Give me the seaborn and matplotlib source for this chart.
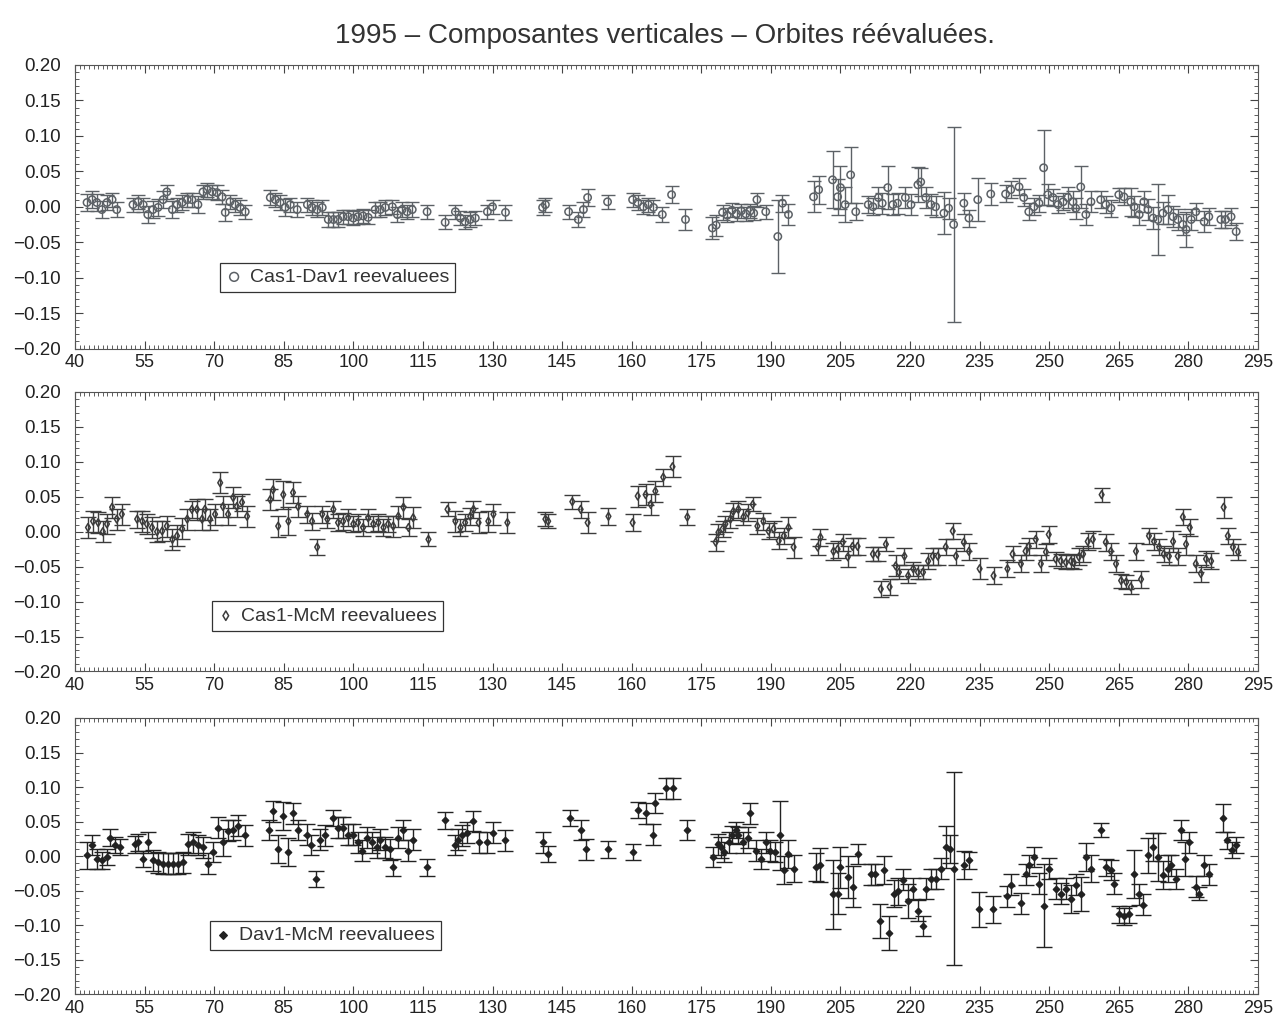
import numpy as np
import pandas as pd
import matplotlib
matplotlib.use("Agg")
import matplotlib.pyplot as plt
import seaborn as sns
from matplotlib.ticker import MultipleLocator

# ---------------- data ----------------
title = "1995 – Composantes verticales – Orbites réévaluées."
x_ticks = list(range(40, 296, 15))
y_ticks = [-0.20, -0.15, -0.10, -0.05, 0.00, 0.05, 0.10, 0.15, 0.20]

labels = ["Cas1-Dav1 reevaluees", "Cas1-McM reevaluees", "Dav1-McM reevaluees"]

x1 = [42.6, 43.7, 44.7, 45.8, 46.9, 48.0, 49.0, 52.5, 53.6, 54.7, 55.7, 56.8, 57.9, 59.0, 59.8, 61.0, 62.0, 63.1, 64.2, 65.2,
      66.5, 67.6, 68.5, 69.6, 70.6, 71.7, 72.4, 73.4, 74.5, 75.6, 76.7, 82.1, 83.2, 84.2, 85.3, 86.4, 87.9, 90.1, 91.1, 92.2,
      93.3, 94.6, 95.7, 96.7, 97.8, 98.9, 100.0, 101.0, 102.1, 103.2, 104.7, 105.8, 106.9, 108.4, 109.5, 110.5, 111.6, 112.7, 115.9, 119.8,
      122.0, 123.1, 124.1, 125.2, 126.3, 128.9, 130.0, 132.8, 140.8, 141.4, 146.4, 148.5, 149.6, 150.5, 154.8, 160.2, 161.3, 162.5, 163.6, 164.7,
      166.6, 168.6, 171.6, 177.4, 178.2, 179.6, 180.6, 181.6, 182.6, 183.6, 184.6, 185.5, 186.3, 187.0, 188.9, 191.5, 192.5, 193.8, 199.2, 200.3,
      203.3, 204.4, 205.0, 206.0, 207.2, 208.3, 211.0, 212.0, 213.2, 214.0, 215.2, 216.3, 217.3, 219.0, 220.2, 221.7, 222.3, 223.4, 224.5, 225.5,
      227.3, 228.3, 229.4, 231.6, 232.7, 234.6, 237.4, 240.6, 241.7, 243.5, 244.5, 245.6, 246.7, 247.8, 248.8, 249.7, 250.8, 251.9, 253.0, 254.0,
      255.1, 255.7, 256.8, 257.9, 259.0, 261.1, 262.2, 263.3, 265.0, 266.1, 267.6, 268.3, 269.4, 270.4, 271.3, 272.4, 273.4, 274.5, 275.6, 276.7,
      277.7, 278.8, 279.5, 280.6, 281.6, 283.4, 284.4, 287.0, 288.0, 289.2, 290.3]
y1 = [0.006, 0.010, 0.006, -0.004, 0.006, 0.010, -0.004, 0.003, 0.007, 0.003, -0.011, -0.004, -0.001, 0.010, 0.021, -0.004, 0.003, 0.006, 0.010, 0.010,
      0.003, 0.021, 0.024, 0.021, 0.020, 0.014, -0.008, 0.007, 0.003, -0.001, -0.007, 0.013, 0.010, 0.006, -0.001, 0.003, -0.004, 0.003, -0.001, -0.004,
      -0.001, -0.018, -0.018, -0.018, -0.014, -0.014, -0.016, -0.014, -0.013, -0.015, -0.004, -0.004, -0.001, 0.000, -0.011, -0.004, -0.007, -0.004, -0.007, -0.022,
      -0.007, -0.016, -0.021, -0.018, -0.016, -0.007, 0.000, -0.008, -0.001, 0.003, -0.007, -0.018, -0.004, 0.013, 0.007, 0.010, 0.006, 0.000, 0.003, -0.001,
      -0.011, 0.017, -0.018, -0.030, -0.026, -0.008, -0.012, -0.005, -0.010, -0.006, -0.010, -0.006, -0.009, 0.010, -0.007, -0.042, 0.005, -0.011, 0.014, 0.024,
      0.038, 0.014, 0.027, 0.003, 0.045, -0.007, 0.003, 0.000, 0.013, 0.005, 0.027, 0.003, 0.005, 0.013, 0.003, 0.031, 0.035, 0.013, 0.003, 0.000,
      -0.009, -0.002, -0.025, 0.005, -0.016, 0.010, 0.018, 0.018, 0.024, 0.028, 0.013, -0.007, 0.000, 0.005, 0.055, 0.017, 0.013, 0.003, 0.007, 0.013,
      0.007, -0.002, 0.028, -0.011, 0.007, 0.010, 0.003, -0.002, 0.017, 0.014, 0.007, 0.000, -0.011, 0.007, -0.004, -0.016, -0.018, -0.009, -0.004, -0.014,
      -0.018, -0.025, -0.032, -0.018, -0.007, -0.021, -0.014, -0.018, -0.018, -0.014, -0.035]
e1 = [0.012, 0.012, 0.012, 0.012, 0.010, 0.010, 0.010, 0.010, 0.010, 0.010, 0.012, 0.012, 0.012, 0.012, 0.010, 0.012, 0.010, 0.010, 0.010, 0.010,
      0.012, 0.010, 0.010, 0.010, 0.010, 0.010, 0.012, 0.010, 0.010, 0.010, 0.010, 0.010, 0.010, 0.010, 0.012, 0.010, 0.010, 0.010, 0.010, 0.010,
      0.010, 0.010, 0.010, 0.010, 0.010, 0.010, 0.010, 0.010, 0.010, 0.010, 0.010, 0.010, 0.010, 0.010, 0.010, 0.010, 0.010, 0.010, 0.010, 0.010,
      0.010, 0.010, 0.010, 0.010, 0.010, 0.010, 0.010, 0.010, 0.010, 0.010, 0.010, 0.010, 0.010, 0.012, 0.010, 0.010, 0.010, 0.010, 0.010, 0.010,
      0.010, 0.012, 0.015, 0.015, 0.015, 0.010, 0.010, 0.010, 0.010, 0.010, 0.010, 0.010, 0.010, 0.010, 0.010, 0.052, 0.012, 0.015, 0.022, 0.020,
      0.040, 0.025, 0.030, 0.025, 0.040, 0.012, 0.012, 0.012, 0.015, 0.015, 0.030, 0.015, 0.015, 0.015, 0.015, 0.025, 0.020, 0.015, 0.015, 0.015,
      0.030, 0.015, 0.137, 0.015, 0.012, 0.030, 0.015, 0.012, 0.012, 0.012, 0.012, 0.012, 0.012, 0.012, 0.053, 0.015, 0.012, 0.012, 0.012, 0.015,
      0.015, 0.015, 0.030, 0.015, 0.015, 0.012, 0.012, 0.012, 0.010, 0.012, 0.020, 0.015, 0.015, 0.015, 0.015, 0.015, 0.050, 0.015, 0.020, 0.015,
      0.015, 0.015, 0.025, 0.015, 0.012, 0.015, 0.012, 0.012, 0.012, 0.012, 0.012]

x2 = [42.8, 43.9, 45.0, 46.0, 46.9, 48.0, 49.0, 50.1, 53.4, 54.5, 55.5, 56.6, 57.7, 58.8, 59.8, 61.0, 62.0, 63.1, 64.2, 65.2,
      66.3, 67.4, 68.0, 69.1, 70.2, 71.3, 71.9, 73.0, 74.1, 74.9, 76.0, 77.1, 82.1, 82.7, 83.8, 84.9, 86.0, 87.0, 88.1, 90.1,
      91.1, 92.2, 93.3, 94.4, 95.7, 96.7, 97.8, 98.9, 100.0, 101.0, 102.1, 103.2, 104.3, 105.4, 106.5, 107.5, 108.6, 109.7, 110.8, 111.9,
      112.9, 116.2, 120.3, 122.0, 123.1, 124.1, 125.2, 125.9, 127.0, 129.1, 130.2, 133.2, 141.4, 142.0, 147.2, 149.0, 150.5, 155.0, 160.2, 161.3,
      163.0, 164.1, 165.1, 166.8, 168.8, 172.0, 178.1, 178.7, 179.6, 180.2, 181.3, 181.9, 183.0, 184.1, 185.0, 186.1, 187.1, 188.4, 189.5, 190.6,
      191.7, 192.8, 193.8, 194.9, 200.1, 200.7, 203.5, 204.4, 205.5, 206.6, 207.6, 208.7, 212.0, 213.0, 213.7, 214.8, 215.6, 216.9, 217.6, 218.8,
      219.6, 220.7, 221.7, 222.8, 223.9, 224.9, 226.0, 227.7, 229.2, 229.9, 231.6, 232.7, 235.0, 238.0, 241.0, 242.1, 243.9, 244.9, 245.6, 247.1,
      248.2, 249.3, 249.9, 251.4, 252.5, 253.6, 254.7, 255.3, 256.4, 257.3, 258.3, 259.4, 261.3, 262.2, 263.3, 264.4, 265.5, 266.6, 267.6, 268.7,
      269.8, 271.5, 272.6, 273.7, 274.7, 275.8, 276.7, 277.7, 278.8, 279.5, 280.3, 281.6, 282.7, 283.8, 284.9, 287.6, 288.5, 289.6, 290.7]
y2 = [0.006, 0.015, 0.013, 0.000, 0.011, 0.035, 0.018, 0.025, 0.018, 0.015, 0.011, 0.006, 0.000, 0.001, 0.008, -0.011, -0.006, 0.004, 0.018, 0.032,
      0.032, 0.018, 0.032, 0.018, 0.025, 0.070, 0.036, 0.025, 0.049, 0.036, 0.042, 0.022, 0.046, 0.060, 0.008, 0.053, 0.015, 0.056, 0.036, 0.025,
      0.015, -0.022, 0.025, 0.018, 0.032, 0.013, 0.015, 0.020, 0.011, 0.013, 0.006, 0.020, 0.011, 0.013, 0.006, 0.011, 0.008, 0.022, 0.035, 0.006,
      0.020, -0.011, 0.032, 0.015, 0.006, 0.013, 0.022, 0.032, 0.013, 0.015, 0.025, 0.013, 0.018, 0.015, 0.043, 0.032, 0.013, 0.022, 0.013, 0.051,
      0.053, 0.039, 0.058, 0.078, 0.093, 0.021, -0.015, -0.001, 0.004, 0.011, 0.018, 0.029, 0.032, 0.021, 0.027, 0.039, 0.008, 0.015, 0.001, 0.004,
      -0.013, -0.006, 0.006, -0.022, -0.022, -0.008, -0.028, -0.025, -0.015, -0.036, -0.021, -0.021, -0.032, -0.032, -0.082, -0.018, -0.079, -0.049, -0.058, -0.035,
      -0.063, -0.053, -0.058, -0.058, -0.042, -0.035, -0.035, -0.022, 0.001, -0.035, -0.015, -0.028, -0.053, -0.063, -0.053, -0.032, -0.046, -0.028, -0.021, -0.011,
      -0.046, -0.029, -0.004, -0.039, -0.042, -0.044, -0.042, -0.044, -0.036, -0.032, -0.014, -0.011, 0.053, -0.015, -0.028, -0.046, -0.070, -0.072, -0.079, -0.028,
      -0.068, -0.006, -0.014, -0.022, -0.032, -0.035, -0.014, -0.035, 0.021, -0.018, 0.006, -0.046, -0.060, -0.039, -0.042, 0.035, -0.006, -0.022, -0.029]
e2 = [0.015, 0.015, 0.015, 0.015, 0.015, 0.015, 0.015, 0.015, 0.012, 0.015, 0.015, 0.015, 0.015, 0.015, 0.015, 0.015, 0.015, 0.015, 0.015, 0.012,
      0.015, 0.015, 0.015, 0.015, 0.015, 0.015, 0.015, 0.015, 0.015, 0.015, 0.012, 0.015, 0.015, 0.015, 0.015, 0.020, 0.020, 0.015, 0.015, 0.012,
      0.012, 0.012, 0.012, 0.012, 0.012, 0.012, 0.012, 0.012, 0.012, 0.012, 0.012, 0.012, 0.012, 0.012, 0.012, 0.012, 0.015, 0.015, 0.015, 0.012,
      0.015, 0.010, 0.010, 0.015, 0.012, 0.012, 0.012, 0.012, 0.015, 0.015, 0.015, 0.015, 0.010, 0.010, 0.010, 0.012, 0.015, 0.012, 0.012, 0.015,
      0.015, 0.015, 0.015, 0.012, 0.015, 0.012, 0.012, 0.012, 0.012, 0.012, 0.012, 0.012, 0.012, 0.012, 0.012, 0.010, 0.012, 0.012, 0.012, 0.012,
      0.012, 0.012, 0.015, 0.015, 0.012, 0.012, 0.012, 0.012, 0.012, 0.015, 0.012, 0.012, 0.010, 0.010, 0.012, 0.010, 0.012, 0.015, 0.010, 0.012,
      0.010, 0.010, 0.010, 0.010, 0.012, 0.012, 0.012, 0.012, 0.012, 0.012, 0.012, 0.012, 0.015, 0.012, 0.012, 0.012, 0.012, 0.012, 0.012, 0.012,
      0.012, 0.012, 0.012, 0.010, 0.010, 0.010, 0.010, 0.010, 0.012, 0.012, 0.012, 0.012, 0.010, 0.012, 0.012, 0.012, 0.010, 0.010, 0.010, 0.012,
      0.012, 0.012, 0.012, 0.012, 0.012, 0.012, 0.015, 0.012, 0.012, 0.015, 0.012, 0.012, 0.012, 0.012, 0.012, 0.015, 0.012, 0.012, 0.012]

x3 = [42.6, 43.7, 44.7, 45.8, 46.9, 47.6, 48.6, 49.7, 52.9, 53.6, 54.7, 55.7, 56.8, 57.9, 59.0, 60.1, 61.1, 62.2, 63.3, 64.4,
      65.5, 66.5, 67.6, 68.7, 69.8, 70.9, 71.9, 73.0, 74.1, 75.2, 76.7, 81.9, 82.7, 83.8, 84.9, 86.0, 87.0, 88.1, 90.1, 90.9,
      92.0, 92.9, 93.9, 95.7, 96.7, 97.8, 98.9, 100.0, 101.0, 101.9, 103.0, 104.1, 105.2, 105.8, 106.9, 108.0, 108.6, 109.7, 110.8, 111.8,
      112.9, 115.9, 119.8, 122.0, 122.6, 123.5, 124.6, 125.9, 127.0, 128.9, 130.0, 132.8, 140.8, 142.0, 146.8, 149.0, 150.2, 155.0, 160.2, 161.3,
      163.0, 164.5, 165.1, 167.3, 169.0, 172.0, 177.6, 178.5, 179.2, 179.8, 180.9, 181.7, 182.4, 183.0, 183.9, 185.0, 185.6, 186.7, 187.8, 188.9,
      189.9, 191.0, 191.9, 192.8, 193.6, 194.9, 199.7, 200.7, 203.5, 204.4, 205.0, 206.6, 207.6, 208.7, 211.5, 212.4, 213.5, 214.3, 215.4, 216.5,
      217.3, 218.4, 219.5, 220.7, 221.7, 222.7, 223.4, 224.5, 225.5, 226.6, 227.7, 228.6, 229.5, 231.6, 232.7, 234.8, 237.8, 240.9, 241.7, 243.9,
      244.9, 245.6, 246.7, 247.8, 248.8, 249.9, 251.4, 252.5, 253.6, 254.7, 255.7, 256.8, 257.9, 259.0, 261.1, 262.2, 263.3, 264.0, 265.0, 266.1,
      267.2, 268.3, 269.4, 270.2, 271.3, 272.4, 273.4, 274.5, 275.6, 276.3, 277.3, 278.4, 279.3, 280.1, 281.6, 282.3, 283.4, 284.4, 287.5, 288.3,
      289.4, 290.3]
y3 = [0.001, 0.016, -0.004, -0.006, -0.001, 0.027, 0.016, 0.013, 0.017, 0.020, -0.004, 0.020, -0.006, -0.009, -0.011, -0.011, -0.011, -0.011, -0.009, 0.017,
      0.020, 0.016, 0.013, -0.011, 0.006, 0.041, 0.020, 0.037, 0.038, 0.044, 0.030, 0.038, 0.065, 0.010, 0.058, 0.006, 0.062, 0.038, 0.031, 0.016,
      -0.033, 0.024, 0.030, 0.055, 0.041, 0.041, 0.031, 0.031, 0.020, 0.008, 0.027, 0.020, 0.013, 0.024, 0.013, 0.010, -0.016, 0.027, 0.038, 0.008,
      0.024, -0.016, 0.052, 0.016, 0.024, 0.030, 0.034, 0.051, 0.020, 0.020, 0.034, 0.023, 0.020, 0.003, 0.055, 0.038, 0.010, 0.010, 0.006, 0.067,
      0.062, 0.031, 0.077, 0.098, 0.098, 0.038, -0.001, 0.017, 0.013, 0.006, 0.020, 0.031, 0.038, 0.030, 0.020, 0.027, 0.062, 0.008, -0.004, 0.020,
      0.008, 0.006, 0.030, -0.020, 0.003, -0.018, -0.016, -0.013, -0.055, -0.054, -0.016, -0.030, -0.044, 0.003, -0.026, -0.026, -0.094, -0.020, -0.111, -0.054,
      -0.051, -0.034, -0.065, -0.047, -0.079, -0.101, -0.047, -0.033, -0.033, -0.018, 0.013, 0.010, -0.018, -0.013, -0.006, -0.077, -0.077, -0.058, -0.041, -0.068,
      -0.026, -0.013, -0.001, -0.040, -0.072, -0.018, -0.047, -0.054, -0.047, -0.062, -0.041, -0.055, -0.001, -0.018, 0.038, -0.016, -0.020, -0.040, -0.084, -0.087,
      -0.084, -0.026, -0.055, -0.070, 0.001, 0.013, -0.001, -0.027, -0.018, -0.013, -0.033, 0.038, -0.004, 0.020, -0.044, -0.054, -0.013, -0.026, 0.055, 0.023,
      0.009, 0.016]
e3 = [0.020, 0.015, 0.015, 0.012, 0.012, 0.012, 0.012, 0.012, 0.012, 0.012, 0.012, 0.015, 0.015, 0.015, 0.015, 0.015, 0.015, 0.015, 0.015, 0.015,
      0.015, 0.015, 0.015, 0.015, 0.015, 0.015, 0.020, 0.015, 0.015, 0.015, 0.015, 0.015, 0.015, 0.020, 0.020, 0.020, 0.015, 0.015, 0.015, 0.015,
      0.012, 0.015, 0.015, 0.012, 0.015, 0.015, 0.015, 0.015, 0.015, 0.015, 0.015, 0.015, 0.015, 0.015, 0.015, 0.015, 0.012, 0.015, 0.015, 0.015,
      0.015, 0.012, 0.012, 0.015, 0.015, 0.015, 0.015, 0.015, 0.015, 0.015, 0.015, 0.015, 0.015, 0.012, 0.012, 0.015, 0.015, 0.012, 0.012, 0.012,
      0.015, 0.015, 0.015, 0.015, 0.015, 0.015, 0.015, 0.015, 0.015, 0.015, 0.015, 0.012, 0.012, 0.012, 0.015, 0.015, 0.015, 0.015, 0.015, 0.015,
      0.015, 0.015, 0.050, 0.020, 0.020, 0.020, 0.020, 0.025, 0.050, 0.030, 0.030, 0.030, 0.030, 0.015, 0.015, 0.015, 0.025, 0.020, 0.025, 0.020,
      0.020, 0.015, 0.025, 0.015, 0.015, 0.015, 0.015, 0.015, 0.015, 0.015, 0.030, 0.020, 0.140, 0.020, 0.012, 0.025, 0.020, 0.015, 0.015, 0.015,
      0.015, 0.015, 0.015, 0.015, 0.060, 0.015, 0.015, 0.015, 0.015, 0.020, 0.015, 0.025, 0.020, 0.020, 0.010, 0.012, 0.015, 0.015, 0.012, 0.012,
      0.012, 0.035, 0.015, 0.015, 0.025, 0.020, 0.035, 0.020, 0.020, 0.015, 0.015, 0.015, 0.025, 0.015, 0.015, 0.010, 0.015, 0.015, 0.020, 0.012,
      0.012, 0.012]

# ---------------- styling ----------------
sns.set_theme(style="ticks")
plt.rcParams["font.family"] = ["Liberation Sans", "DejaVu Sans"]
plt.rcParams["axes.unicode_minus"] = True

fig = plt.figure(figsize=(12.86, 10.22), dpi=100)
left, width = 0.0583, 0.9199
rects = [(left, 0.6590, width, 0.2774),
         (left, 0.3430, width, 0.2735),
         (left, 0.0270, width, 0.2705)]
panels = [(x1, y1, e1), (x2, y2, e2), (x3, y3, e3)]
colors = ["#5c6166", "#3c3c3c", "#222222"]
markers = ["o", "d", "D"]
msizes = [28, 16, 10]
faces = ["none", "none", "#222222"]
caps = [5, 6, 6]
leg_anchor = [(0.123, 0.20), (0.116, 0.146), (0.114, 0.16)]

for i, (rect, (xs, ys, es)) in enumerate(zip(rects, panels)):
    ax = fig.add_axes(rect)
    df = pd.DataFrame({"x": xs, "y": ys, "err": es})
    ax.errorbar(df["x"], df["y"], yerr=df["err"], fmt="none", ecolor=colors[i],
                elinewidth=1.0, capsize=caps[i], capthick=1.0, zorder=2)
    sns.scatterplot(data=df, x="x", y="y", ax=ax, marker=markers[i], s=msizes[i],
                    facecolors=faces[i], edgecolor=colors[i], linewidth=1.1,
                    color=colors[i], label=labels[i], zorder=3)
    ax.set_xlim(40, 295)
    ax.set_ylim(-0.20, 0.20)
    ax.set_xticks(x_ticks)
    ax.set_yticks(y_ticks)
    ax.set_yticklabels([f"{v:.2f}".replace("-", "\u2212") for v in y_ticks])
    ax.xaxis.set_minor_locator(MultipleLocator(1))
    ax.yaxis.set_minor_locator(MultipleLocator(0.01))
    ax.tick_params(which="both", direction="in", top=True, right=True,
                   colors="#444444", labelcolor="#222222")
    ax.tick_params(which="major", length=6, width=0.8)
    ax.tick_params(which="minor", length=3, width=0.6)
    ax.tick_params(axis="x", which="major", labelsize=13, pad=4)
    ax.tick_params(axis="y", which="major", labelsize=13.5, pad=10)
    ax.set_xlabel("")
    ax.set_ylabel("")
    for sp in ax.spines.values():
        sp.set_color("#555555")
        sp.set_linewidth(0.8)
    leg = ax.legend(loc="lower left", bbox_to_anchor=leg_anchor[i], frameon=True,
                    fancybox=False, edgecolor="#333333", framealpha=1,
                    fontsize=14, handlelength=0.8, handletextpad=0.4,
                    borderpad=0.3, borderaxespad=0, markerscale=1.2)
    leg.get_frame().set_linewidth(0.9)
    for t in leg.get_texts():
        t.set_color("#333333")

fig.text(0.517, 0.965, title, ha="center", va="center", fontsize=20, color="#333333")

fig.savefig("out.png", dpi=100)
